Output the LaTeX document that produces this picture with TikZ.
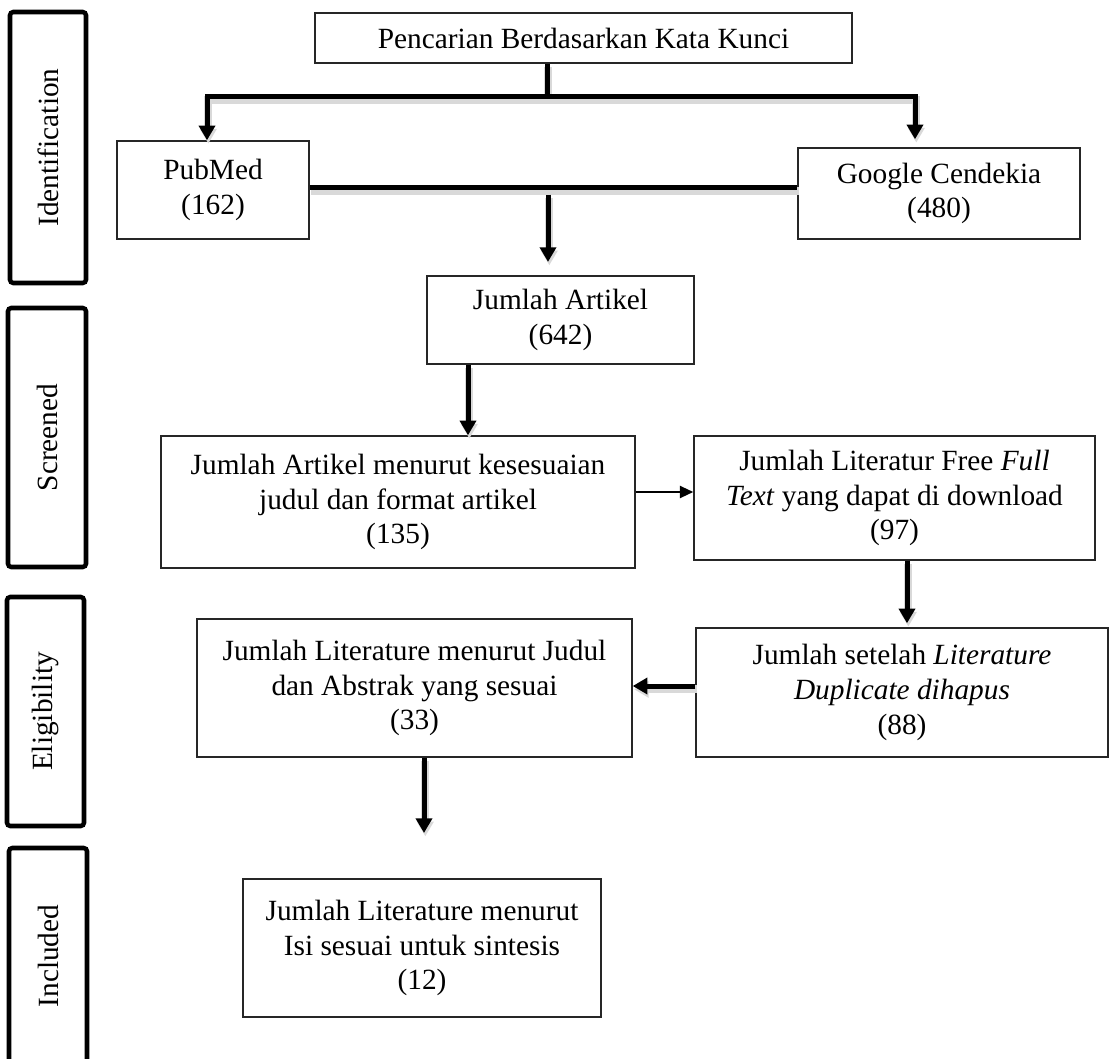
\documentclass[tikz,border=0pt]{standalone}
\usepackage{fontspec}
\setmainfont{Liberation Serif}
\usetikzlibrary{arrows.meta}
\tikzset{
  box size/.style 2 args={minimum width=#1*0.75pt, minimum height=#2*0.75pt},
  text box/.style={
    draw=black!85, line width=1.1pt, align=center, inner sep=2pt,
    font=\fontsize{22}{26}\selectfont,
  },
  stage box/.style={
    draw=black, line width=3.4pt, rounded corners=2.5pt, rotate=90,
    font=\fontsize{22}{26}\selectfont,
  },
  bar edge/.style={
    line width=3.75pt,
    preaction={draw=black!15, line width=6pt, transform canvas={shift={(1pt,-2.5pt)}}},
  },
  flow edge/.style={bar edge, -{Triangle[length=11pt,width=12pt]}},
  thin edge/.style={line width=1.5pt, -{Triangle[length=10pt,width=9pt]}},
}
\begin{document}
\begin{tikzpicture}[x=0.75pt, y=-0.75pt]
  \useasboundingbox (0,0) rectangle (1110,1059);

  % Stages
  \node[stage box, box size={271}{76}] (stage_id) at (48,147.5) {Identification};
  \node[stage box, box size={259}{78}] (stage_screen) at (47,437.5) {Screened};
  \node[stage box, box size={229}{77}] (stage_elig) at (45.5,711.5) {Eligibility};
  \node[stage box, box size={216}{78}] (stage_incl) at (48,956) {Included};

  % Define nodes
  \node[text box, box size={537}{50}] (cari) at (583.5,38) {Pencarian Berdasarkan Kata Kunci};
  \node[text box, box size={192}{98}] (pubmed) at (213,190) {PubMed\\(162)};
  \node[text box, box size={282}{91}] (google) at (939,193.5) {Google Cendekia\\(480)};
  \node[text box, box size={267}{88}] (jumlah_artikel) at (560.5,320) {Jumlah Artikel\\(642)};
  \node[text box, box size={474}{132}] (jumlah_judul) at (398,502)
    {Jumlah Artikel menurut kesesuaian\\judul dan format artikel\\(135)};
  \node[text box, box size={401}{124}] (jumlah_free) at (894.5,498)
    {Jumlah Literatur Free \textit{Full}\\\textit{Text} yang dapat di download\\(97)};
  \node[text box, box size={412}{129}] (jumlah_dup) at (902,692.5)
    {Jumlah setelah \textit{Literature}\\\textit{Duplicate dihapus}\\(88)};
  \node[text box, box size={435}{138}] (jumlah_abstrak) at (414.5,688)
    {Jumlah Literature menurut Judul\\dan Abstrak yang sesuai\\(33)};
  \node[text box, box size={358}{138}] (jumlah_isi) at (422,948)
    {Jumlah Literature menurut\\Isi sesuai untuk sintesis\\(12)};

  \coordinate (fork) at (547,97);
  \coordinate (fork_l) at (207,97);
  \coordinate (fork_r) at (915,97);
  \coordinate (merge) at (548,188);
  \coordinate (col_a) at (468,0);
  \coordinate (row_b) at (0,492);
  \coordinate (col_c) at (907,0);
  \coordinate (row_d) at (0,686);
  \coordinate (tip_e) at (424,833);

  % Connect nodes
  \draw[bar edge] (cari.south -| fork) -- (fork);
  \draw[flow edge] (fork) -- (fork_l) -- (fork_l |- pubmed.north);
  \draw[flow edge] (fork) -- (fork_r) -- ([yshift=6pt]fork_r |- google.north);
  \draw[bar edge] (merge -| pubmed.east) -- (merge -| google.west);
  \draw[flow edge, shorten <=5pt] (merge) -- ([yshift=10pt]merge |- jumlah_artikel.north);
  \draw[flow edge] (jumlah_artikel.south -| col_a) -- (jumlah_judul.north -| col_a);
  \draw[thin edge] (jumlah_judul.east |- row_b) -- (jumlah_free.west |- row_b);
  \draw[flow edge] (jumlah_free.south -| col_c) -- ([yshift=3pt]jumlah_dup.north -| col_c);
  \draw[flow edge] (jumlah_dup.west |- row_d) -- (jumlah_abstrak.east |- row_d);
  \draw[flow edge] (jumlah_abstrak.south -| tip_e) -- (tip_e);

\end{tikzpicture}
\end{document}
